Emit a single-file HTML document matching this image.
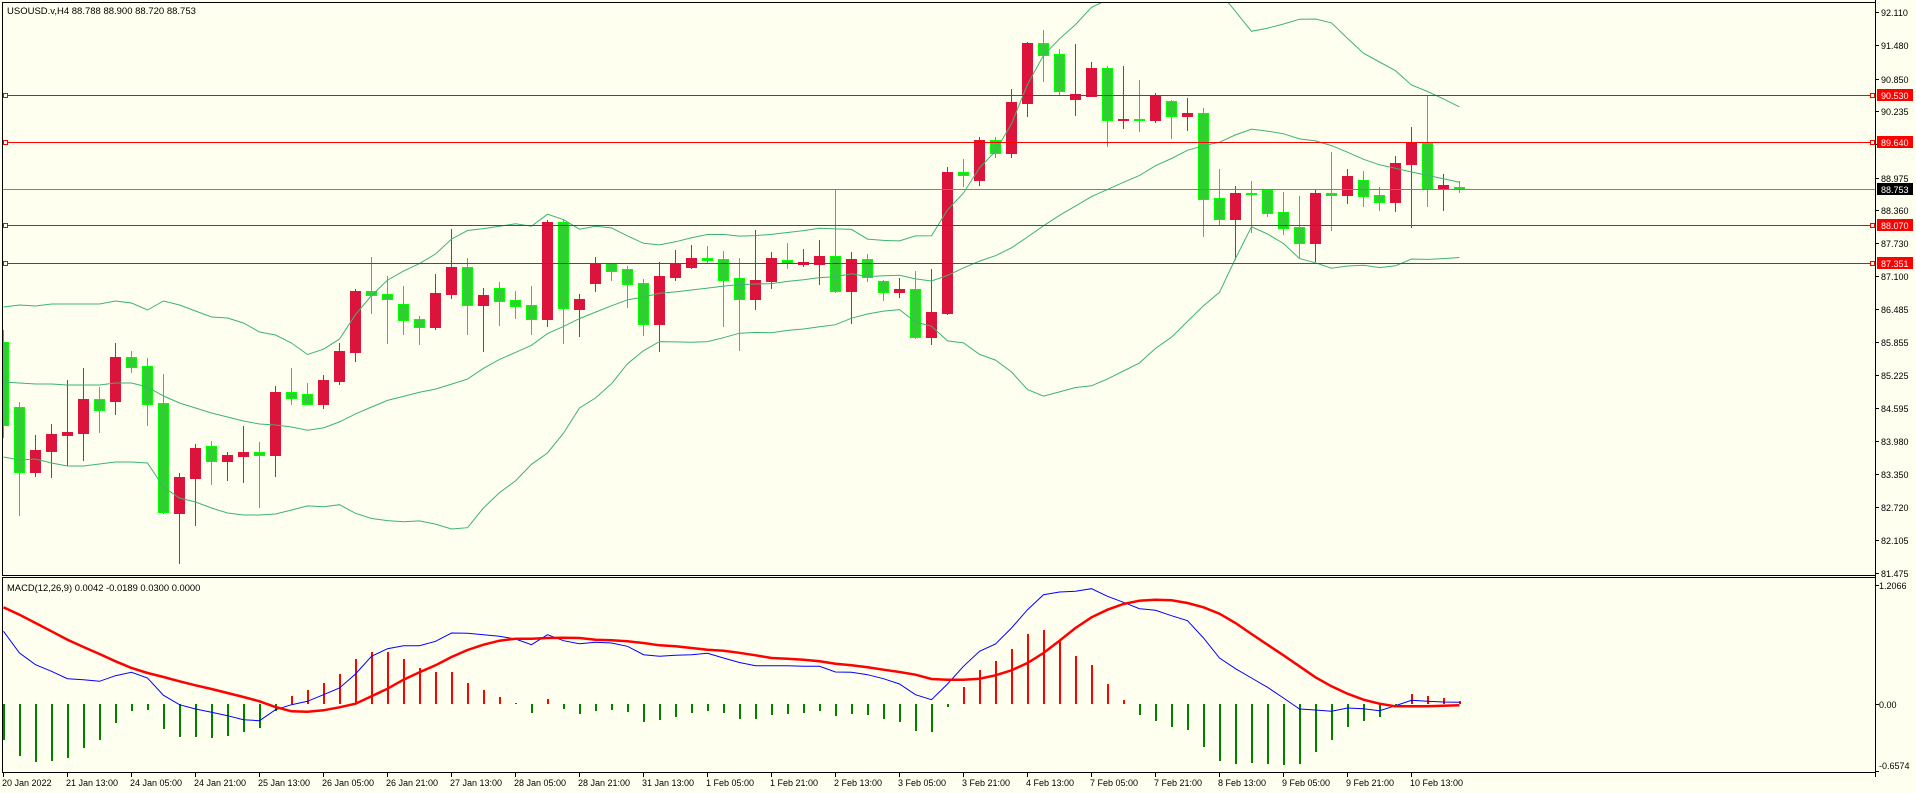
<!DOCTYPE html>
<html><head><meta charset="utf-8"><style>
html,body{margin:0;padding:0;background:#FFFFF0;}
svg{display:block;}
text{font-family:"Liberation Sans",sans-serif;font-size:9px;fill:#000;}
</style></head><body>
<svg id="s" width="1916" height="793" viewBox="0 0 1916 793" xmlns="http://www.w3.org/2000/svg">
<rect width="1916" height="793" fill="#FFFFF0"/>
<defs>
<clipPath id="cm"><rect x="3" y="3" width="1872" height="572"/></clipPath>
<clipPath id="cd"><rect x="3" y="578" width="1872" height="194"/></clipPath>
</defs>
<g id="main" clip-path="url(#cm)" shape-rendering="crispEdges"></g>
<g id="bb" clip-path="url(#cm)"></g>
<g id="hl" shape-rendering="crispEdges">
<rect x="3" y="95" width="1872" height="1" fill="#FF0000"/>
<rect x="3" y="142" width="1872" height="1" fill="#FF0000"/>
<rect x="3" y="189" width="1872" height="1" fill="#808080"/>
<rect x="3" y="225" width="1872" height="1" fill="#FF0000"/>
<rect x="3" y="263" width="1872" height="1" fill="#FF0000"/>
<rect x="3.5" y="93.5" width="4" height="4" fill="#FFFFF0" stroke="#FF0000" stroke-width="1"/>
<rect x="3.5" y="140.5" width="4" height="4" fill="#FFFFF0" stroke="#FF0000" stroke-width="1"/>
<rect x="3.5" y="223.5" width="4" height="4" fill="#FFFFF0" stroke="#FF0000" stroke-width="1"/>
<rect x="3.5" y="261.5" width="4" height="4" fill="#FFFFF0" stroke="#FF0000" stroke-width="1"/>
<rect x="1870.5" y="93.5" width="4" height="4" fill="#FFFFF0" stroke="#FF0000" stroke-width="1"/>
<rect x="1870.5" y="140.5" width="4" height="4" fill="#FFFFF0" stroke="#FF0000" stroke-width="1"/>
<rect x="1870.5" y="223.5" width="4" height="4" fill="#FFFFF0" stroke="#FF0000" stroke-width="1"/>
<rect x="1870.5" y="261.5" width="4" height="4" fill="#FFFFF0" stroke="#FF0000" stroke-width="1"/>
</g>
<g id="macd" clip-path="url(#cd)" shape-rendering="crispEdges"></g>
<g id="macdl" clip-path="url(#cd)" fill="none"></g>

<!-- frames -->
<g shape-rendering="crispEdges" fill="#000">
<rect x="2" y="2" width="1874" height="1"/>
<rect x="2" y="2" width="1" height="574"/>
<rect x="1875" y="0" width="1" height="777"/>
<rect x="2" y="575" width="1874" height="1"/>
<rect x="2" y="577" width="1874" height="1"/>
<rect x="2" y="577" width="1" height="196"/>
<rect x="2" y="772" width="1874" height="1"/>
<!-- price ticks -->
<rect x="1876" y="12" width="3" height="1"/><rect x="1876" y="45" width="3" height="1"/>
<rect x="1876" y="79" width="3" height="1"/><rect x="1876" y="111" width="3" height="1"/>
<rect x="1876" y="144" width="3" height="1"/><rect x="1876" y="178" width="3" height="1"/>
<rect x="1876" y="210" width="3" height="1"/><rect x="1876" y="243" width="3" height="1"/>
<rect x="1876" y="276" width="3" height="1"/><rect x="1876" y="309" width="3" height="1"/>
<rect x="1876" y="342" width="3" height="1"/><rect x="1876" y="375" width="3" height="1"/>
<rect x="1876" y="408" width="3" height="1"/><rect x="1876" y="441" width="3" height="1"/>
<rect x="1876" y="474" width="3" height="1"/><rect x="1876" y="507" width="3" height="1"/>
<rect x="1876" y="540" width="3" height="1"/><rect x="1876" y="573" width="3" height="1"/>
<rect x="1876" y="585" width="3" height="1"/><rect x="1876" y="704" width="3" height="1"/>
<rect x="1876" y="771" width="3" height="1"/>
</g>
<g id="tt" shape-rendering="crispEdges" fill="#000"></g>

<!-- texts -->
<text x="7" y="14" style="font-size:9.5px">USOUSD.v,H4  88.788 88.900 88.720 88.753</text>
<text x="7" y="591" style="font-size:9.4px">MACD(12,26,9) 0.0042 -0.0189 0.0300 0.0000</text>

<text x="1881" y="16">92.110</text>
<text x="1881" y="49">91.480</text>
<text x="1881" y="83">90.850</text>
<text x="1881" y="115">90.235</text>
<text x="1881" y="148">89.605</text>
<text x="1881" y="182">88.975</text>
<text x="1881" y="214">88.360</text>
<text x="1881" y="247">87.730</text>
<text x="1881" y="280">87.100</text>
<text x="1881" y="313">86.485</text>
<text x="1881" y="346">85.855</text>
<text x="1881" y="379">85.225</text>
<text x="1881" y="412">84.595</text>
<text x="1881" y="445">83.980</text>
<text x="1881" y="478">83.350</text>
<text x="1881" y="511">82.720</text>
<text x="1881" y="544">82.105</text>
<text x="1881" y="577">81.475</text>

<rect x="1877" y="89" width="36" height="12" fill="#FF0000"/>
<text x="1881" y="99" style="fill:#fff">90.530</text>
<rect x="1877" y="136" width="36" height="12" fill="#FF0000"/>
<text x="1881" y="146" style="fill:#fff">89.640</text>
<rect x="1877" y="183" width="36" height="12" fill="#000"/>
<text x="1881" y="193" style="fill:#fff">88.753</text>
<rect x="1877" y="219" width="36" height="12" fill="#FF0000"/>
<text x="1881" y="229" style="fill:#fff">88.070</text>
<rect x="1877" y="257" width="36" height="12" fill="#FF0000"/>
<text x="1881" y="267" style="fill:#fff">87.351</text>

<text x="1879" y="589">1.2066</text>
<text x="1879" y="708">0.00</text>
<text x="1879" y="769">-0.6574</text>

<text x="2" y="786">20 Jan 2022</text>
<text x="66" y="786">21 Jan 13:00</text>
<text x="130" y="786">24 Jan 05:00</text>
<text x="194" y="786">24 Jan 21:00</text>
<text x="258" y="786">25 Jan 13:00</text>
<text x="322" y="786">26 Jan 05:00</text>
<text x="386" y="786">26 Jan 21:00</text>
<text x="450" y="786">27 Jan 13:00</text>
<text x="514" y="786">28 Jan 05:00</text>
<text x="578" y="786">28 Jan 21:00</text>
<text x="642" y="786">31 Jan 13:00</text>
<text x="706" y="786">1 Feb 05:00</text>
<text x="770" y="786">1 Feb 21:00</text>
<text x="834" y="786">2 Feb 13:00</text>
<text x="898" y="786">3 Feb 05:00</text>
<text x="962" y="786">3 Feb 21:00</text>
<text x="1026" y="786">4 Feb 13:00</text>
<text x="1090" y="786">7 Feb 05:00</text>
<text x="1154" y="786">7 Feb 21:00</text>
<text x="1218" y="786">8 Feb 13:00</text>
<text x="1282" y="786">9 Feb 05:00</text>
<text x="1346" y="786">9 Feb 21:00</text>
<text x="1410" y="786">10 Feb 13:00</text>
</svg>
<script>
(function(){
var D=[
['g',342,425,330,437],['g',407,472,402,515],['r',450,472,435,476],['r',434,451,424,477],
['r',432,435,380,465],['r',399,433,368,460],['g',399,410,387,432],['r',357,401,343,414],
['g',357,367,351,372],['g',366,404,358,425],['g',403,512,374,513],['r',477,513,473,563],
['r',448,478,444,525],['g',446,461,441,484],['r',455,461,452,480],['r',452,456,426,482],
['g',452,455,442,507],['r',392,455,386,476],['g',392,398,368,404],['g',394,404,383,404],
['r',380,404,375,408],['r',351,381,343,384],['r',291,352,289,361],['g',291,295,257,313],
['g',294,299,276,343],['g',304,320,286,334],['g',319,327,316,344],['r',293,327,274,329],
['r',267,294,229,298],['g',267,305,258,334],['r',295,305,288,351],['g',288,301,282,325],
['g',300,306,291,318],['g',305,319,286,334],['r',222,319,220,326],['g',222,308,219,343],
['r',299,309,294,336],['r',263,283,257,291],['g',263,271,263,280],['g',269,284,266,307],
['g',283,324,279,335],['r',276,324,262,351],['r',263,277,250,280],['r',258,267,245,268],
['g',258,260,246,262],['g',259,280,251,326],['g',278,299,258,350],['r',280,299,230,309],
['r',258,281,252,288],['g',260,263,243,268],['r',262,264,249,266],['r',256,264,240,284],
['g',256,291,190,292],['r',259,291,252,323],['g',259,277,254,281],['g',281,292,280,300],
['r',289,292,278,297],['g',289,337,271,338],['r',312,337,269,344],['r',172,313,167,314],
['g',172,175,159,186],['r',140,180,137,185],['g',140,153,137,157],['r',102,153,89,157],
['r',43,103,42,116],['g',43,55,30,81],['g',54,91,49,95],['r',94,99,44,115],
['r',68,96,62,96],['g',68,120,66,146],['r',119,120,66,128],['g',119,120,80,131],
['r',95,120,93,122],['g',101,116,100,138],['r',113,116,98,130],['g',113,199,108,236],
['g',198,219,169,225],['r',193,219,186,259],['g',193,194,181,232],['g',190,213,190,216],
['g',212,228,192,234],['g',227,243,196,257],['r',193,243,190,261],['g',193,195,152,230],
['r',176,195,169,203],['g',180,196,171,206],['g',195,202,187,210],['r',163,202,156,211],
['r',143,164,127,227],['g',143,189,96,206],['r',185,189,174,210],['g',187,189,181,192]];
var h='';
for(var k=0;k<D.length;k++){
 var d=D[k],cx=3+16*k,c=d[0];
 var wc=c=='r'?'#DC143C':'#00EE00';
 h+='<rect x="'+cx+'" y="'+d[3]+'" width="1" height="'+(d[4]-d[3]+1)+'" fill="'+wc+'"/>';
 if(c=='r'){
  h+='<rect x="'+(cx-5)+'" y="'+d[1]+'" width="11" height="'+(d[2]-d[1]+1)+'" fill="#DC143C"/>';
 }else{
  h+='<rect x="'+(cx-5)+'" y="'+d[1]+'" width="11" height="'+(d[2]-d[1]+1)+'" fill="#00FF00"/>';
  if(d[2]-d[1]-1>0) h+='<rect x="'+(cx-4)+'" y="'+(d[1]+1)+'" width="9" height="'+(d[2]-d[1]-1)+'" fill="#32CD32"/>';
 }
}
document.getElementById('main').innerHTML=h;
// Bollinger
var TU=[307,305,306,304,304,304,304,301,303,310,301,305,311,317,318,323,332,335,343];
var TM=[382,383,384,384,385,385,385,383,383,387,396,403,408,413,417,421,424,425,427];
var TL=[457,460,459,463,466,466,464,462,462,463,487,498,502,508,513,515,515,514,510];
var C=D.map(function(d){return d[0]=='r'?d[1]:d[2];});
var U=[],M=[],L=[];
for(var k=0;k<D.length;k++){
 if(k<19){U.push(TU[k]);M.push(TM[k]);L.push(TL[k]);continue;}
 var s=0;for(var j=k-19;j<=k;j++)s+=C[j];var m=s/20;
 var v=0;for(var j=k-19;j<=k;j++)v+=(C[j]-m)*(C[j]-m);var sd=Math.sqrt(v/20);
 U.push(m-2*sd);M.push(m);L.push(m+2*sd);
}
function pl(a,col,w){var p=[];for(var k=0;k<a.length;k++)p.push((3.5+16*k)+','+a[k].toFixed(1));return '<polyline points="'+p.join(' ')+'" fill="none" stroke="'+col+'" stroke-width="'+w+'"/>';}
document.getElementById('bb').innerHTML=pl(U,'#3CB371',1)+pl(M,'#3CB371',1)+pl(L,'#3CB371',1);
// MACD histogram
var HI=[739,755,761,760,757,747,739,722,710,709,728,736,736,737,735,731,727,710,696,690,683,674,659,652,652,659,668,672,672,683,690,697,703,712,699,708,713,710,709,711,721,719,716,712,710,712,718,718,714,713,712,710,715,713,714,718,721,730,731,706,687,670,661,649,634,630,640,656,665,684,700,714,720,726,729,746,760,763,762,763,764,763,751,739,726,720,716,706,694,696,698,701];
var hh='';
for(var k=0;k<HI.length;k++){
 var cx=3+16*k,v=HI[k];
 if(v<704) hh+='<rect x="'+cx+'" y="'+v+'" width="2" height="'+(704-v)+'" fill="#FF0000"/>';
 else hh+='<rect x="'+cx+'" y="704" width="2" height="'+(v-704+1)+'" fill="#008000"/>';
}
document.getElementById('macd').innerHTML=hh;
var BL=[631.3,653,664.7,671.3,678.7,679.7,681.3,675.7,672.3,678,695.3,704.7,709,712.3,715.7,719.7,720.7,709.7,704.7,701.3,694.7,688,674,656.3,648.7,645.7,645.7,641.3,633,633.3,634.7,636.3,639,644.7,634.7,640.7,643.7,642.3,643,646.3,654.7,656.3,655.3,654.7,653.3,658,662.5,665.7,665.7,665.7,666.3,666.3,672,672.3,674.7,678.7,684,694.7,699.7,684,666.3,651.3,644,628,609.7,594.7,592,591.3,588.7,596.3,602.3,608.7,610.3,615.7,620.7,638,658,668.7,678,687.3,698,709,710,711.3,708,708.7,710.7,705.7,700.3,701.3,702,702.3];
var RL=[607.3,614.7,623,631.3,639.7,647,654,661.3,668,673,677,681.3,685.3,689,693,697,701.3,707,711.3,711.7,710.3,707.3,703.7,696.3,688.7,679.7,672.3,665.3,657,650,644.7,640.7,638.7,638.7,638,637.7,638,639.7,640.3,641.3,643,645.3,646.3,648,649.7,650.7,652.8,655.3,658,658.7,659.7,661.3,663.7,665.3,667.3,669.7,672,674.7,679,679.7,679.7,678.7,675.3,670.3,663,653,640.7,628,617.3,609.7,604,600.7,599.7,600.3,603,607.3,613.7,623,634,644.7,655.3,666.3,677.3,686.3,693.7,699.7,703.7,706.3,706.3,706.3,705.7,705.3];
document.getElementById('macdl').innerHTML=pl(BL,'#0000FF',1)+pl(RL,'#FF0000',2.5);
// time ticks
var t='';for(var i=0;i<23;i++)t+='<rect x="'+(3+64*i)+'" y="773" width="1" height="4"/>';
document.getElementById('tt').innerHTML=t;
})();
</script>
</body></html>
